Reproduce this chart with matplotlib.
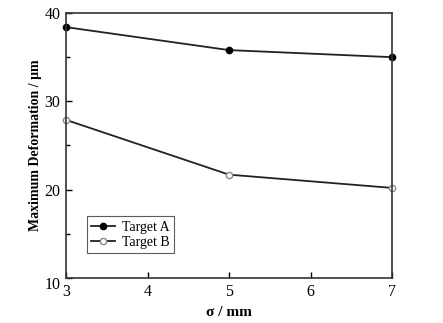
import matplotlib
matplotlib.use("Agg")
import matplotlib.pyplot as plt
import matplotlib.transforms as mtrans
from matplotlib.ticker import MultipleLocator

plt.rcParams['font.family'] = ['Liberation Serif', 'DejaVu Serif']

sigma = [3, 5, 7]
target_a = [38.4, 35.8, 35.0]
target_b = [27.9, 21.7, 20.2]

fig = plt.figure(figsize=(4.43, 3.23), dpi=100)
ax = fig.add_axes([66/443, 1-278/323, (392-66)/443, (278-13)/323])

ax.plot(sigma, target_a, color='#222222', lw=1.3, marker='o', ms=4.5,
        mfc='black', mec='black', label='Target A', clip_on=False)
ax.plot(sigma, target_b, color='#222222', lw=1.3, marker='o', ms=4.5,
        mfc='white', mec='#888888', label='Target B', clip_on=False)

ax.set_xlim(3, 7)
ax.set_ylim(10, 40)
ax.xaxis.set_major_locator(MultipleLocator(1))
ax.yaxis.set_major_locator(MultipleLocator(10))
ax.yaxis.set_minor_locator(MultipleLocator(5))
ax.tick_params(direction='in', labelsize=11.5, top=False, right=False,
               length=4, width=1, pad=4)
ax.tick_params(which='minor', direction='in', length=3, width=1)
for s in ax.spines.values():
    s.set_linewidth(1.2)
    s.set_color('#333333')

fig.canvas.draw()
# bottom y label sits a little lower, like the original
for lab in ax.get_yticklabels():
    if lab.get_text() == '10':
        lab.set_transform(lab.get_transform() +
                          mtrans.ScaledTranslation(0, -5/100, fig.dpi_scale_trans))

ax.set_xlabel('σ / mm', fontsize=11, fontweight='bold', labelpad=5)
ax.set_ylabel('Maximum Deformation / μm', fontsize=10, fontweight='bold', labelpad=1.5)

leg = ax.legend(loc='lower left', bbox_to_anchor=(0.065, 0.095), fontsize=10,
                frameon=True, fancybox=False, edgecolor='#333333',
                handlelength=1.7, borderpad=0.3, labelspacing=0.15,
                handletextpad=0.5, borderaxespad=0)
leg.get_frame().set_linewidth(0.8)

fig.savefig('out.png', dpi=100)
